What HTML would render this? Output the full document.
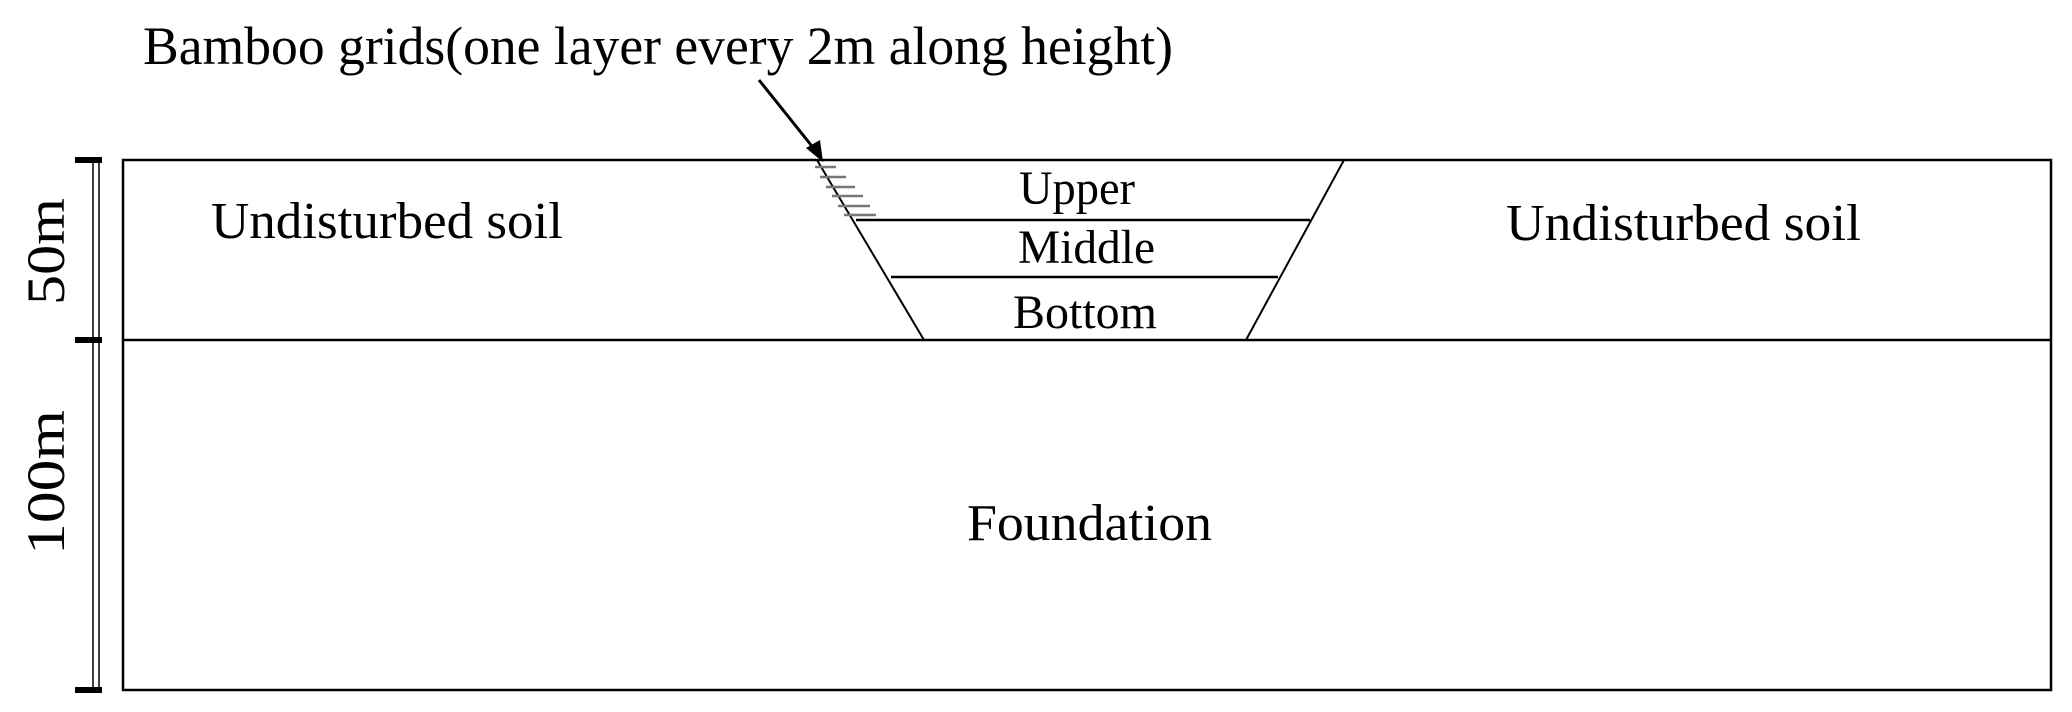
<!DOCTYPE html>
<html><head><meta charset="utf-8"><style>html,body{margin:0;padding:0;background:#fff}svg{display:block}</style></head>
<body>
<svg width="2072" height="712" viewBox="0 0 2072 712" xmlns="http://www.w3.org/2000/svg" font-family="Liberation Serif, serif" fill="#000">
<g stroke="#000" fill="none">
<rect x="123" y="160" width="1928" height="530" stroke-width="2.5"/>
<line x1="123" y1="340" x2="2051" y2="340" stroke-width="2.5"/>
<line x1="817" y1="160" x2="924" y2="340" stroke-width="2"/>
<line x1="1344" y1="160" x2="1246" y2="340" stroke-width="2"/>
<line x1="856" y1="220" x2="1310" y2="220" stroke-width="2.5"/>
<line x1="891" y1="277" x2="1278" y2="277" stroke-width="2.5"/>
<line x1="93" y1="160" x2="93" y2="690" stroke-width="1.5"/>
<line x1="99" y1="160" x2="99" y2="690" stroke-width="1.5"/>
<line x1="75" y1="160" x2="102" y2="160" stroke-width="6"/>
<line x1="75" y1="340" x2="102" y2="340" stroke-width="6"/>
<line x1="75" y1="690" x2="102" y2="690" stroke-width="6"/>
<g stroke="#777" stroke-width="2.5">
<line x1="815" y1="167" x2="836" y2="167"/>
<line x1="820" y1="177" x2="846" y2="177"/>
<line x1="826" y1="187" x2="855" y2="187"/>
<line x1="832" y1="196" x2="863" y2="196"/>
<line x1="838" y1="206" x2="870" y2="206"/>
<line x1="844" y1="215" x2="876" y2="215"/>
</g>
<line x1="759" y1="80" x2="815" y2="150" stroke-width="3"/>
</g>
<polygon points="823,162 806,148 820,140"/>
<text x="143" y="64" font-size="54" textLength="1030" lengthAdjust="spacingAndGlyphs">Bamboo grids(one layer every 2m along height)</text>
<text x="211" y="238" font-size="52" textLength="352" lengthAdjust="spacingAndGlyphs">Undisturbed soil</text>
<text x="1506" y="240" font-size="52" textLength="355" lengthAdjust="spacingAndGlyphs">Undisturbed soil</text>
<text x="1019" y="204" font-size="48" textLength="116" lengthAdjust="spacingAndGlyphs">Upper</text>
<text x="1018" y="263" font-size="48" textLength="137" lengthAdjust="spacingAndGlyphs">Middle</text>
<text x="1013" y="328" font-size="48" textLength="144" lengthAdjust="spacingAndGlyphs">Bottom</text>
<text x="967" y="540" font-size="52" textLength="245" lengthAdjust="spacingAndGlyphs">Foundation</text>
<text transform="translate(64,305) rotate(-90)" font-size="54" textLength="107" lengthAdjust="spacingAndGlyphs">50m</text>
<text transform="translate(64,555) rotate(-90)" font-size="54" textLength="145" lengthAdjust="spacingAndGlyphs">100m</text>
</svg>
</body></html>
